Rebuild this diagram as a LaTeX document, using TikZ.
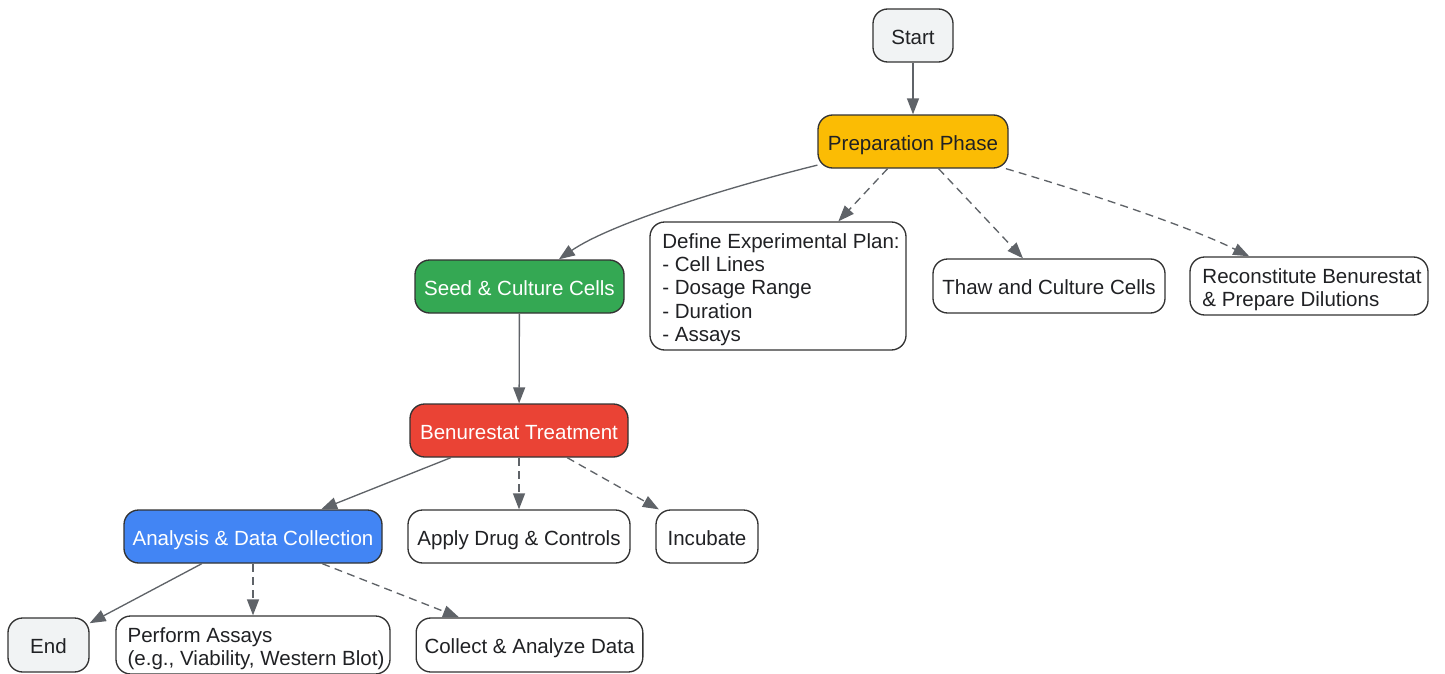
\documentclass[tikz,border=0pt]{standalone}
\usepackage{fontspec}
\setmainfont{Liberation Sans}
\usetikzlibrary{arrows.meta}
\definecolor{edgegray}{HTML}{5F6368}
\definecolor{bordergray}{HTML}{333333}
\definecolor{termfill}{HTML}{F1F3F4}
\definecolor{prepfill}{HTML}{FBBC04}
\definecolor{seedfill}{HTML}{34A853}
\definecolor{treatfill}{HTML}{EA4335}
\definecolor{anafill}{HTML}{4285F4}
\definecolor{txt}{HTML}{202124}
\newcommand{\firstln}{\rule{0pt}{16.4pt}\hspace*{4.5pt}}
\newcommand{\nextln}{\\\hspace*{4.5pt}}
\begin{document}
\begin{tikzpicture}[x=0.75pt,y=-0.75pt,
  box/.style={draw=bordergray, line width=1pt, rounded corners=11pt,
    font=\fontsize{15.4}{17.4}\selectfont, text=txt, inner sep=0pt, align=center},
  oneline/.style={text height=14.5pt, text depth=1.5pt},
  term/.style={box, oneline, fill=termfill},
  phase/.style={box, oneline, text=white},
  task/.style={box, oneline, fill=white},
  multi/.style={box, fill=white, align=left},
  flow/.style={draw=edgegray, line width=1pt, -{Triangle[length=12pt,width=9pt]}},
  sub/.style={flow, dash pattern=on 6pt off 4pt}]
\useasboundingbox (0,0) rectangle (1445,674);

\node[term, minimum width=60pt, minimum height=39.75pt] (start) at (913,35.5) {Start};
\node[phase, fill=prepfill, text=txt, minimum width=142.5pt, minimum height=39.75pt] (prep) at (913,141.5) {Preparation Phase};
\node[phase, fill=seedfill, minimum width=156.75pt, minimum height=39.75pt] (seed) at (519.5,286.5) {Seed \& Culture Cells};
\node[multi, minimum width=192pt, minimum height=96pt] (plan) at (778,286) {\firstln Define Experimental Plan:\nextln - Cell Lines\nextln - Dosage Range\nextln - Duration\nextln - Assays};
\node[task, minimum width=174pt, minimum height=40.5pt] (thaw) at (1049,286) {Thaw and Culture Cells};
\node[multi, minimum width=178.5pt, minimum height=43.5pt] (recon) at (1309,286) {\firstln Reconstitute Benurestat\nextln \& Prepare Dilutions};
\node[phase, fill=treatfill, minimum width=163.5pt, minimum height=39.75pt] (treat) at (519,430.5) {Benurestat Treatment};
\node[phase, fill=anafill, minimum width=193.5pt, minimum height=39.75pt] (ana) at (253,536.5) {Analysis \& Data Collection};
\node[task, minimum width=166.5pt, minimum height=39.75pt] (apply) at (519,536.5) {Apply Drug \& Controls};
\node[task, minimum width=76.5pt, minimum height=39.75pt] (incub) at (707,536.5) {Incubate};
\node[term, minimum width=60.75pt, minimum height=40.5pt] (finish) at (48.5,645) {End};
\node[multi, minimum width=205.5pt, minimum height=43.5pt] (perform) at (253,645) {\firstln Perform Assays\nextln (e.g., Viability, Western Blot)};
\node[task, minimum width=170pt, minimum height=40.5pt] (collect) at (529.5,645) {Collect \& Analyze Data};

\draw[flow] (start) -- (prep);
\draw[flow] (prep) .. controls (725,188) and (610,224) .. (seed);
\draw[sub] (prep) -- (plan);
\draw[sub] (prep) -- (thaw);
\draw[sub] (prep) .. controls (1055,183) and (1180,222) .. (recon);
\draw[flow] (seed) -- (treat);
\draw[flow] (treat) -- (ana);
\draw[sub] (treat) -- (apply);
\draw[sub] (treat) -- (incub);
\draw[flow] (ana) -- (finish);
\draw[sub] (ana) -- (perform);
\draw[sub] (ana) -- (collect);
\end{tikzpicture}
\end{document}
